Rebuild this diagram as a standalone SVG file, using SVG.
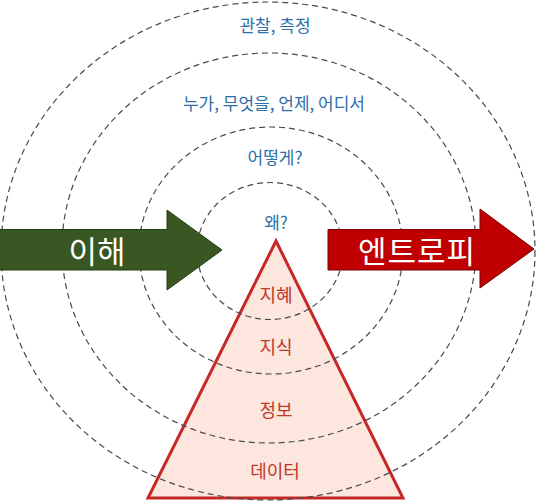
<svg xmlns="http://www.w3.org/2000/svg" width="539" height="502" viewBox="0 0 539 502">
<style>
.ring{fill:none;stroke:#4a4a4a;stroke-width:1.2;stroke-dasharray:6 4}
.q{font-family:"Noto Sans CJK KR","Noto Sans",sans-serif;font-size:17px;fill:#2E6FA7;text-anchor:middle;dominant-baseline:central}
.t{font-family:"Noto Sans CJK KR","Noto Sans",sans-serif;font-size:18px;fill:#C0392B;text-anchor:middle;dominant-baseline:central}
.big{font-family:"Noto Sans CJK KR","Noto Sans",sans-serif;font-size:31px;fill:#ffffff;text-anchor:middle;dominant-baseline:central}
</style>
<rect width="539" height="502" fill="#ffffff"/>
<g id="pyramid">
<polygon points="276,241 148,498 403,498" fill="#FCE6DD" stroke="#C62828" stroke-width="3" stroke-linejoin="miter"/>
</g>
<g id="rings">
<ellipse class="ring" cx="270" cy="251" rx="73" ry="68.5"/>
<ellipse class="ring" cx="271" cy="250.5" rx="132" ry="123.5"/>
<ellipse class="ring" cx="269" cy="248" rx="207" ry="195"/>
<ellipse class="ring" cx="268" cy="251" rx="267" ry="249"/>
</g>
<g id="arrow-understanding">
<polygon points="-2,229.5 167,229.5 167,210 222,250 167,290 167,270 -2,270" fill="#385723" stroke="#263d18" stroke-width="1"/>
<text class="big" x="97" y="249">이해</text>
</g>
<g id="arrow-entropy">
<polygon points="328,229.5 480,229.5 480,209 534,249 480,288 480,270 328,270" fill="#C00000" stroke="#7a0000" stroke-width="1"/>
<text class="big" x="417" y="249" letter-spacing="1">엔트로피</text>
</g>
<g id="q-observe"><text class="q" x="275" y="24">관찰, 측정</text></g>
<g id="q-who"><text class="q" x="274" y="102">누가, 무엇을, 언제, 어디서</text></g>
<g id="q-how"><text class="q" x="275" y="156">어떻게?</text></g>
<g id="q-why"><text class="q" x="276" y="221">왜?</text></g>
<g id="wisdom"><text class="t" x="276" y="294">지혜</text></g>
<g id="knowledge"><text class="t" x="276" y="346">지식</text></g>
<g id="information"><text class="t" x="276" y="409">정보</text></g>
<g id="data"><text class="t" x="275" y="470">데이터</text></g>
<g id="connectors"></g>
</svg>
